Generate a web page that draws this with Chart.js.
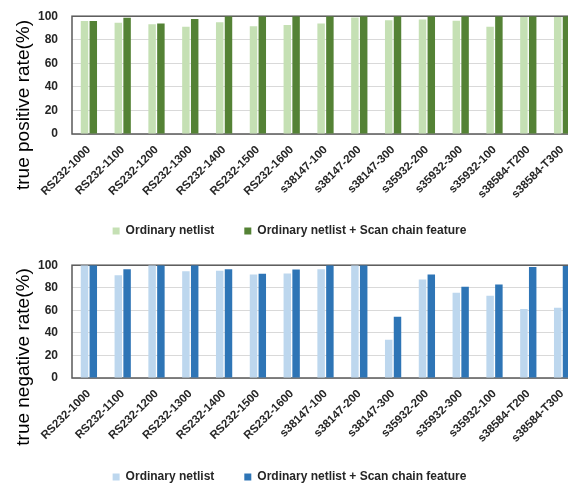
<!DOCTYPE html>
<html>
<head>
<meta charset="utf-8">
<script src="https://cdn.jsdelivr.net/npm/chart.js@4/dist/chart.umd.min.js"></script>
<style>
html,body{margin:0;padding:0;background:#fff;}
#wrap{position:relative;width:568px;height:483px;overflow:hidden;background:#fff;}
canvas{position:absolute;left:0;}
#c1{top:-5px;}
#c2{top:244px;}
.ytitle{position:absolute;font:19px "Liberation Sans",Arial,sans-serif;color:#000;white-space:nowrap;transform:translate(-50%,-50%) rotate(-90deg);}
</style>
</head>
<body>
<div id="wrap">
  <canvas id="c1" width="586" height="252"></canvas>
  <canvas id="c2" width="586" height="249"></canvas>
  <div class="ytitle" style="left:23px;top:105px;">true positive rate(%)</div>
  <div class="ytitle" style="left:23px;top:357px;">true negative rate(%)</div>
</div>
<script>
const categories = ["RS232-1000","RS232-1100","RS232-1200","RS232-1300","RS232-1400","RS232-1500","RS232-1600",
  "s38147-100","s38147-200","s38147-300","s35932-200","s35932-300","s35932-100","s38584-T200","s38584-T300"];
const seriesNames = ["Ordinary netlist","Ordinary netlist + Scan chain feature"];
const tprOrdinary = [96, 94.4, 93.2, 91, 94.9, 91.5, 92.6, 93.8, 98.9, 96.6, 97.2, 96.1, 91, 99.4, 99.4];
const tprScan     = [96, 98.6, 93.8, 97.7, 100, 100, 100, 100, 100, 100, 100, 100, 100, 100, 100];
const tnrOrdinary = [100, 91.2, 100, 94.7, 95, 91.8, 92.6, 96.5, 100, 33.8, 87.4, 75.6, 72.9, 61.2, 62.2];
const tnrScan     = [100, 96.5, 100, 100, 96.5, 92.4, 96.2, 100, 100, 54.4, 91.8, 80.9, 83, 98.5, 99.4];
const yTicks = [0, 20, 40, 60, 80, 100];

const frame = {
  id: 'frame',
  beforeDatasetsDraw(chart) {
    const {ctx, chartArea: a} = chart;
    ctx.save();
    ctx.strokeStyle = '#595959';
    ctx.lineWidth = 1.5;
    ctx.strokeRect(a.left, a.top, a.right - a.left, a.bottom - a.top);
    ctx.restore();
  }
};

function makeChart(id, d1, d2, c1, c2, xHeight) {
  return new Chart(document.getElementById(id), {
    type: 'bar',
    data: {
      labels: categories,
      datasets: [
        {label: seriesNames[0], data: d1, backgroundColor: c1, borderWidth: 0,
         categoryPercentage: 0.52, barPercentage: 0.85},
        {label: seriesNames[1], data: d2, backgroundColor: c2, borderWidth: 0,
         categoryPercentage: 0.52, barPercentage: 0.85}
      ]
    },
    options: {
      responsive: false,
      animation: false,
      devicePixelRatio: 1,
      layout: {padding: {top: 0, right: 7, left: 0, bottom: 0}},
      plugins: {
        tooltip: {enabled: false},
        legend: {
          position: 'bottom',
          labels: {
            boxWidth: 7, boxHeight: 7, padding: 30,
            color: '#262626',
            font: {family: '"Liberation Sans", Arial, sans-serif', size: 12, weight: 'bold'}
          }
        }
      },
      scales: {
        x: {
          grid: {display: false},
          border: {display: false},
          ticks: {
            autoSkip: false, maxRotation: 45, minRotation: 45, padding: 1,
            color: '#262626',
            font: {family: '"Liberation Sans", Arial, sans-serif', size: 11.5, weight: 'bold'}
          },
          afterFit(s) {
            s.height = xHeight;
            s._computeLabelArea = () => undefined;
          }
        },
        y: {
          min: 0, max: 100,
          afterBuildTicks(s) { s.ticks = yTicks.map(v => ({value: v})); },
          grid: {color: '#d9d9d9', drawTicks: false, lineWidth: 1},
          border: {display: false},
          ticks: {
            padding: 14, color: '#262626',
            font: {family: '"Liberation Sans", Arial, sans-serif', size: 12, weight: 'bold'}
          },
          afterFit(s) { s.width = 72; }
        }
      }
    },
    plugins: [frame]
  });
}

makeChart('c1', tprOrdinary, tprScan, '#c5e0b4', '#548235', 61);
makeChart('c2', tnrOrdinary, tnrScan, '#bdd7ee', '#2e75b6', 63);
</script>
</body>
</html>
